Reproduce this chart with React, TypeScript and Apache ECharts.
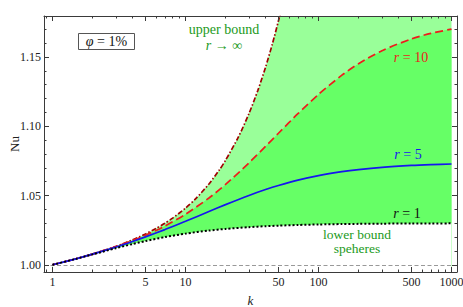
import React, { useEffect, useRef } from 'react';
import * as echarts from 'echarts';

// ---- data ----
const kValues = [1, 1.5, 2, 3, 4, 5, 7, 10, 15, 20, 30, 40, 50, 70, 100, 150, 200, 300, 500, 700, 1000];
const lowerBound = [1, 1.00429, 1.0075, 1.012, 1.015, 1.01714, 1.02, 1.0225, 1.02471, 1.02591, 1.02719, 1.02786, 1.02827, 1.02875, 1.02912, 1.02941, 1.02955, 1.0297, 1.02982, 1.02987, 1.02991];
const r5Values = [1, 1.00432, 1.00769, 1.01286, 1.01684, 1.02013, 1.02542, 1.0314, 1.03846, 1.04344, 1.05007, 1.05431, 1.05726, 1.06111, 1.06439, 1.06723, 1.06876, 1.07036, 1.07171, 1.0723, 1.07276];
const r10Values = [1, 1.00433, 1.00774, 1.01314, 1.01752, 1.02134, 1.02798, 1.03646, 1.04822, 1.058, 1.07357, 1.08551, 1.09497, 1.10905, 1.12302, 1.13688, 1.14515, 1.15456, 1.16308, 1.16704, 1.17015];
const kUpper = [1, 1.5, 2, 3, 4, 5, 6, 7, 8, 10, 12, 15, 18, 20, 25, 30, 35, 40, 45, 50, 55, 60, 70, 100, 1000];
const upperBound = [1, 1.00433, 1.00778, 1.01333, 1.018, 1.02222, 1.02619, 1.03, 1.0337, 1.04091, 1.04795, 1.05833, 1.0686, 1.0754, 1.09231, 1.10914, 1.12593, 1.14268, 1.15942, 1.17614, 1.19286, 1.20956, 1.24296, 1.34307, 4.34331];

// tick positions on the k axis (mantissas within each decade)
const labelledMantissas = [1, 5];
const minorMantissas = [2, 3, 4, 6, 7, 8, 9];

const K_MIN = 0.863;
const K_MAX = 1100;
const Y_MIN = 0.9948;
const Y_MAX = 1.1796;

const U_MIN = Math.log10(K_MIN);
const U_MAX = Math.log10(K_MAX);

const SERIF = "'Liberation Serif', 'Times New Roman', 'DejaVu Serif', serif";
const FRAME = '#3a3a3a';
const GREEN_TEXT = '#229a22';

const pairs = (ks: number[], ys: number[]) => ks.map((k, i) => [Math.log10(k), ys[i]]);

// a value axis in log10(k) space, shifted so that its integer ticks land on m·10^n
function kAxis(m: number, position: 'top' | 'bottom', opts: { line: boolean; labels: boolean; tickLen: number; name?: boolean }) {
  const shift = Math.log10(m);
  const ax: any = {
    type: 'value',
    gridIndex: 0,
    position,
    min: U_MIN - shift,
    max: U_MAX - shift,
    splitNumber: 3,
    minInterval: 1,
    maxInterval: 1,
    z: 10,
    axisLine: { show: opts.line, onZero: false, lineStyle: { color: FRAME, width: 1 } },
    axisTick: { show: true, inside: true, length: opts.tickLen, lineStyle: { color: FRAME, width: 1 } },
    axisLabel: {
      show: opts.labels,
      showMinLabel: false,
      showMaxLabel: false,
      margin: 4,
      color: '#222',
      fontFamily: SERIF,
      fontSize: 12,
      formatter: (v: number) => String(Math.round(m * Math.pow(10, v))),
    },
    splitLine: { show: false },
    minorTick: { show: false },
    minorSplitLine: { show: false },
  };
  if (opts.name) {
    ax.name = 'k';
    ax.nameLocation = 'middle';
    ax.nameGap = 22;
    ax.nameMoveOverlap = false;
    ax.nameTextStyle = { fontFamily: SERIF, fontStyle: 'italic', fontSize: 13, color: '#222' };
  }
  return ax;
}

function buildXAxes() {
  const axes: any[] = [];
  (['bottom', 'top'] as const).forEach((pos) => {
    labelledMantissas.forEach((m, i) => {
      axes.push(kAxis(m, pos, { line: i === 0, labels: pos === 'bottom', tickLen: 5, name: pos === 'bottom' && i === 0 }));
    });
    minorMantissas.forEach((m) => {
      axes.push(kAxis(m, pos, { line: false, labels: false, tickLen: 2.5 }));
    });
  });
  return axes;
}

function nuAxis(position: 'left' | 'right', labels: boolean) {
  const ax: any = {
    type: 'value',
    gridIndex: 0,
    position,
    min: Y_MIN,
    max: Y_MAX,
    splitNumber: 4,
    z: 10,
    axisLine: { show: true, onZero: false, lineStyle: { color: FRAME, width: 1 } },
    axisTick: { show: true, inside: true, length: 5, lineStyle: { color: FRAME, width: 1 } },
    minorTick: { show: true, splitNumber: 5, length: 2.5, lineStyle: { color: FRAME, width: 1 } },
    axisLabel: {
      show: labels,
      showMinLabel: false,
      showMaxLabel: false,
      margin: 3,
      color: '#222',
      fontFamily: SERIF,
      fontSize: 12,
      formatter: (v: number) => v.toFixed(2),
    },
    splitLine: { show: false },
  };
  if (labels) {
    ax.name = 'Nu';
    ax.nameLocation = 'middle';
    ax.nameGap = 23;
    ax.nameMoveOverlap = false;
    ax.nameRotate = 90;
    ax.nameTextStyle = { fontFamily: SERIF, fontSize: 13, color: '#222' };
  }
  return ax;
}

function label(x: number, y: number, text: string, color: string, size = 14, lineHeight = 16) {
  const base = { fontFamily: SERIF, fontSize: size, fill: color, color, lineHeight };
  return {
    type: 'text',
    x,
    y,
    z: 20,
    style: {
      text,
      fill: color,
      fontFamily: SERIF,
      fontSize: size,
      lineHeight,
      align: 'center',
      verticalAlign: 'middle',
      textAlign: 'center',
      textVerticalAlign: 'middle',
      rich: {
        i: { ...base, fontStyle: 'italic' },
        n: { ...base },
      },
    },
  };
}

export default function App() {
  const ref = useRef<HTMLDivElement>(null);
  useEffect(() => {
    const chart = echarts.init(ref.current!, null, { renderer: 'svg' });
    const fill = (name: string, ks: number[], ys: number[], color: string, z: number) => ({
      name,
      type: 'line',
      data: pairs(ks, ys),
      xAxisIndex: 0,
      yAxisIndex: 0,
      symbol: 'none',
      smooth: 0.25,
      clip: true,
      silent: true,
      z,
      lineStyle: { width: 0, opacity: 0 },
      areaStyle: { color, opacity: 1 },
    });
    const line = (name: string, ks: number[], ys: number[], color: string, type: any, width: number, z: number) => ({
      name,
      type: 'line',
      data: pairs(ks, ys),
      xAxisIndex: 0,
      yAxisIndex: 0,
      symbol: 'none',
      smooth: 0.25,
      clip: true,
      silent: true,
      z,
      lineStyle: { color, type, width, cap: 'butt' },
    });
    chart.setOption({
      animation: false,
      backgroundColor: '#fff',
      grid: { left: 44, right: 6, top: 16, bottom: 35, containLabel: false, outerBoundsMode: 'none' },
      xAxis: buildXAxes(),
      yAxis: [nuAxis('left', true), nuAxis('right', false)],
      series: [
        fill('upperFill', kUpper, upperBound, '#99ff99', 2),
        fill('r10Fill', kValues, r10Values, '#66ff66', 3),
        fill('lowerFill', kValues, lowerBound, '#ffffff', 4),
        {
          name: 'baseline',
          type: 'line',
          data: [],
          xAxisIndex: 0,
          yAxisIndex: 0,
          z: 5,
          markLine: {
            silent: true,
            symbol: 'none',
            label: { show: false },
            lineStyle: { color: '#999999', type: [4, 2.5], width: 1.2 },
            data: [{ yAxis: 1 }],
          },
        },
        line('upper bound', kUpper, upperBound, '#a00000', [5, 2, 1.5, 2], 1.7, 6),
        line('r = 10', kValues, r10Values, '#ee1c1c', [8, 4], 1.7, 6),
        line('r = 5', kValues, r5Values, '#1616ee', 'solid', 1.7, 6),
        line('r = 1', kValues, lowerBound, '#000000', [2, 2], 2, 7),
      ],
      graphic: [
        {
          type: 'rect',
          z: 19,
          shape: { x: 78.5, y: 33.5, width: 56, height: 16 },
          style: { fill: '#ffffff', stroke: '#555555', lineWidth: 1 },
        },
        label(106.5, 41.5, '{i|φ}{n| = 1%}', '#111111', 14),
        label(224, 37, '{n|upper bound}\n{i|r}{n| → ∞}', GREEN_TEXT, 14, 16),
        label(411, 57, '{i|r}{n| = 10}', '#e81c1c', 14),
        label(408, 154, '{i|r}{n| = 5}', '#1616ee', 14),
        label(407, 213, '{i|r}{n| = 1}', '#111111', 14),
        label(357, 241.5, '{n|lower bound}\n{n|speheres}', GREEN_TEXT, 13.5, 14),
      ],
    });
    return () => chart.dispose();
  }, []);
  return (
    <div
      ref={ref}
      style={{ position: 'fixed', left: 0, top: 0, width: 463, height: 307, background: '#fff' }}
    />
  );
}
